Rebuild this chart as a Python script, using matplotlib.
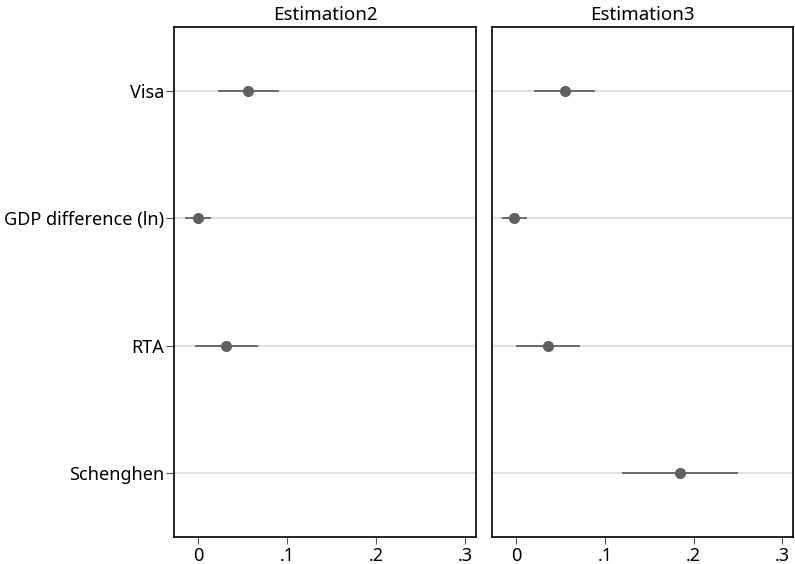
import matplotlib
matplotlib.use("Agg")
from matplotlib import pyplot as plt
import matplotlib.ticker as ticker

plt.rcParams['font.family'] = ['Noto Sans', 'DejaVu Sans']

labels = ["Visa", "GDP difference (ln)", "RTA", "Schenghen"]
panels = ["Estimation2", "Estimation3"]

# coefficients and confidence intervals per panel (None = not in model)
est2_coef = [0.0566, 0.0003, 0.0315, None]
est2_lo = [0.024, -0.013, -0.0026, None]
est2_hi = [0.0898, 0.013, 0.066, None]

est3_coef = [0.055, -0.002, 0.036, 0.185]
est3_lo = [0.0218, -0.015, 0.001, 0.121]
est3_hi = [0.088, 0.011, 0.071, 0.249]

xticks = [0, 0.1, 0.2, 0.3]
xticklabels = ["0", ".1", ".2", ".3"]

fig = plt.figure(figsize=(7.95, 5.64), dpi=100)
ax1 = fig.add_axes([174/795, 1-537/564, (476-174)/795, (537-27)/564])
ax2 = fig.add_axes([492/795, 1-537/564, (793-492)/795, (537-27)/564])

col = "#606060"
for ax, name, coef, lo, hi in [(ax1, panels[0], est2_coef, est2_lo, est2_hi),
                               (ax2, panels[1], est3_coef, est3_lo, est3_hi)]:
    ypos = list(range(1, len(labels) + 1))
    for y in ypos:
        ax.axhline(y, color="#dcdcdc", lw=1.2, zorder=0)
    for y, c, l, h in zip(ypos, coef, lo, hi):
        if c is None:
            continue
        ax.plot([l, h], [y, y], color=col, lw=1.3, zorder=2)
        ax.plot(c, y, "o", color=col, ms=7, zorder=3)
    ax.set_xlim(-0.027, 0.312)
    ax.set_ylim(4.5, 0.5)
    ax.set_xticks(xticks)
    ax.set_xticklabels(xticklabels)
    ax.set_yticks(ypos)
    ax.set_title(name, fontsize=13.5, pad=5)
    ax.tick_params(axis="x", direction="out", length=5, color="#555555", labelsize=13, pad=2)
    for s in ax.spines.values():
        s.set_linewidth(1.2)
        s.set_color("black")

ax1.set_yticklabels(labels)
ax1.tick_params(axis="y", direction="out", length=6, color="#555555", labelsize=13, pad=1)
ax2.tick_params(axis="y", length=0, labelleft=False)

fig.savefig("out.png", dpi=100)
